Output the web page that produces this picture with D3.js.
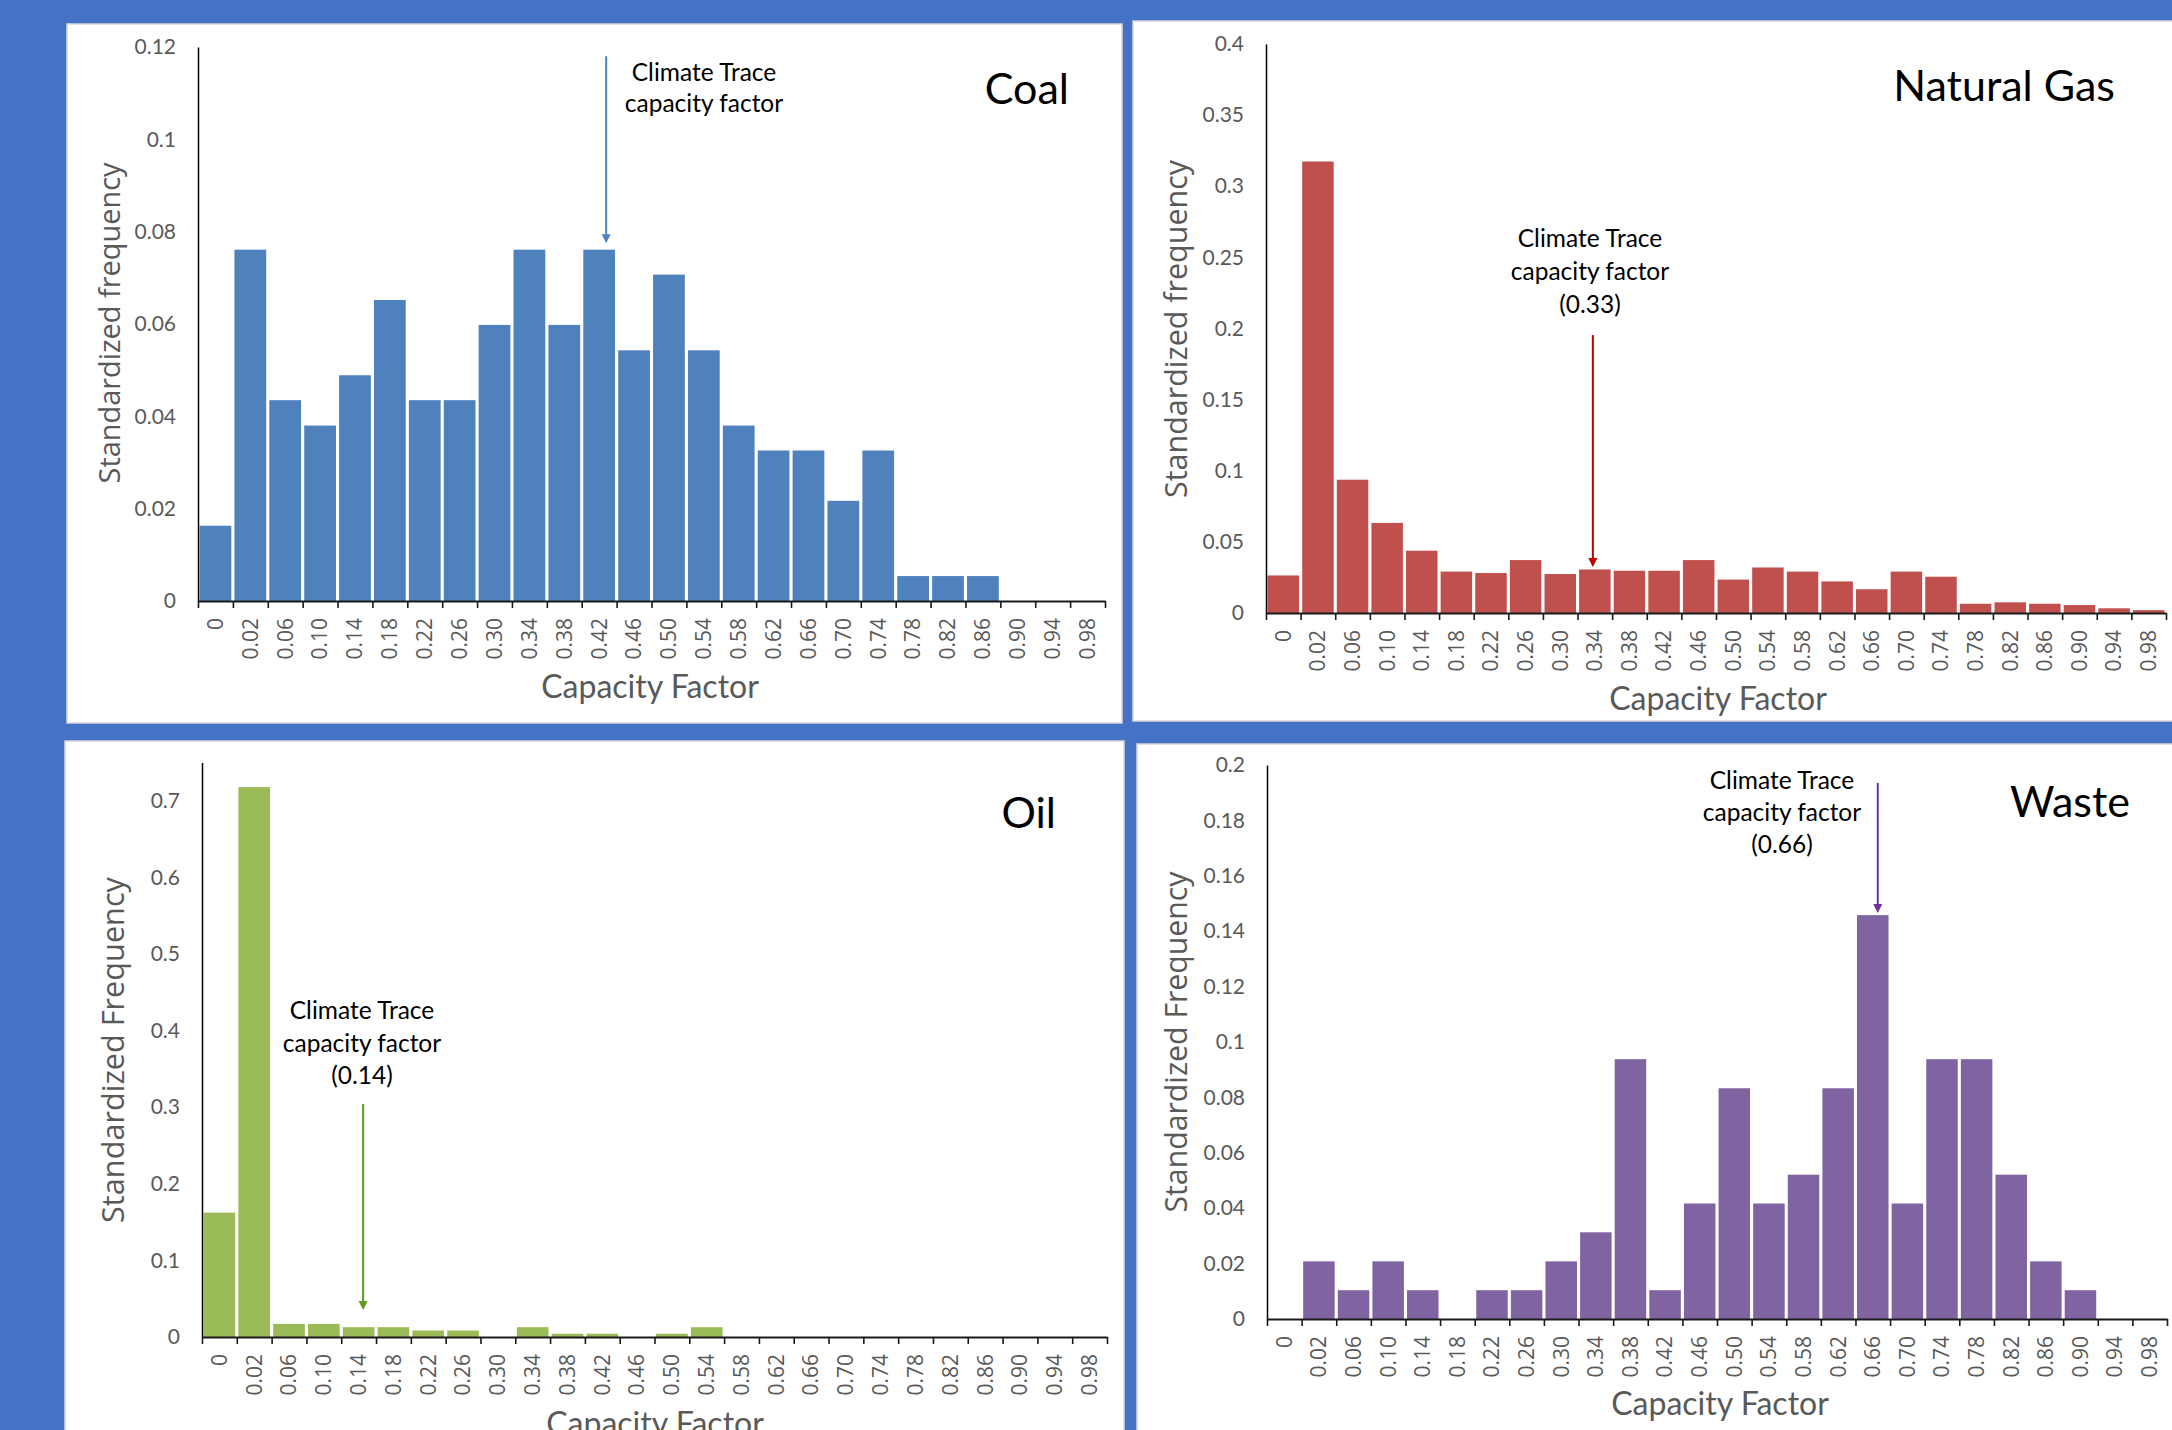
<!DOCTYPE html>
<html>
<head>
<meta charset="utf-8">
<script src="https://cdn.jsdelivr.net/npm/d3@7"></script>
<style>
  html, body { margin: 0; padding: 0; background: #4472C4; overflow: hidden; }
  svg { display: block; }
</style>
</head>
<body>
<svg id="fig" width="2172" height="1430"></svg>
<script>
// Capacity-factor bins (x categories shared by all four histograms)
const bins = ["0","0.02","0.06","0.10","0.14","0.18","0.22","0.26","0.30","0.34","0.38","0.42","0.46",
              "0.50","0.54","0.58","0.62","0.66","0.70","0.74","0.78","0.82","0.86","0.90","0.94","0.98"];

// Standardized frequency per bin
const coalFreq  = [0.0163,0.0761,0.0435,0.0380,0.0489,0.0652,0.0435,0.0435,0.0598,0.0761,0.0598,0.0761,0.0543,
                   0.0707,0.0543,0.0380,0.0326,0.0326,0.0217,0.0326,0.0054,0.0054,0.0054,0,0,0];
const gasFreq   = [0.0264,0.3174,0.0937,0.0633,0.0438,0.0291,0.0281,0.0372,0.0274,0.0306,0.0297,0.0297,0.0372,
                   0.0235,0.0320,0.0291,0.0222,0.0167,0.0291,0.0255,0.0065,0.0075,0.0065,0.0056,0.0033,0.0020];
const oilFreq   = [0.1624,0.7179,0.0171,0.0171,0.0128,0.0128,0.0085,0.0085,0,0.0128,0.0043,0.0043,0,
                   0.0043,0.0128,0,0,0,0,0,0,0,0,0,0,0];
const wasteFreq = [0,0.0208,0.0104,0.0208,0.0104,0,0.0104,0.0104,0.0208,0.0313,0.0938,0.0104,0.0417,
                   0.0833,0.0417,0.0521,0.0833,0.1458,0.0417,0.0938,0.0938,0.0521,0.0208,0.0104,0,0];

// Y tick values
const coalTicks  = [0,0.02,0.04,0.06,0.08,0.1,0.12];
const gasTicks   = [0,0.05,0.1,0.15,0.2,0.25,0.3,0.35,0.4];
const oilTicks   = [0,0.1,0.2,0.3,0.4,0.5,0.6,0.7];
const wasteTicks = [0,0.02,0.04,0.06,0.08,0.1,0.12,0.14,0.16,0.18,0.2];

// Climate Trace capacity-factor markers: bin pointed at, arrow span (in frequency units), caption
const coalMarker  = { bin: "0.42", from: 0.1180, to: 0.0775, lines: ["Climate Trace", "capacity factor"] };
const gasMarker   = { bin: "0.34", from: 0.1954, to: 0.0323, lines: ["Climate Trace", "capacity factor", "(0.33)"] };
const oilMarker   = { bin: "0.14", from: 0.3042, to: 0.0352, lines: ["Climate Trace", "capacity factor", "(0.14)"] };
const wasteMarker = { bin: "0.66", from: 0.1935, to: 0.1466, lines: ["Climate Trace", "capacity factor", "(0.66)"] };

const panels = [
  { title: "Coal", values: coalFreq, ticks: coalTicks, yMax: 0.12, marker: coalMarker,
    yTitle: "Standardized frequency", color: "#4F81BD", arrow: "#4A82C3",
    box: [67, 24, 1055, 699], xr: [198, 1105], yr: [601, 47],
    titleX: 1069, titleY: 104, yTitleX: 111, yTitleY: 323, yTitleLen: 321,
    xTitleX: 650, xTitleY: 698, capX: 704, capY: 81, capStep: 31, arrowDx: 7 },
  { title: "Natural Gas", values: gasFreq, ticks: gasTicks, yMax: 0.4, marker: gasMarker,
    yTitle: "Standardized frequency", color: "#C0504D", arrow: "#C00000",
    box: [1133, 21, 1060, 700], xr: [1266, 2166], yr: [613, 44],
    titleX: 2115, titleY: 101, yTitleX: 1178, yTitleY: 329, yTitleLen: 338,
    xTitleX: 1718, xTitleY: 710, capX: 1590, capY: 247, capStep: 33, arrowDx: -2 },
  { title: "Oil", values: oilFreq, ticks: oilTicks, yMax: 0.75, marker: oilMarker,
    yTitle: "Standardized Frequency", color: "#9BBB59", arrow: "#5B9A1A",
    box: [65, 741, 1059, 720], xr: [202, 1107], yr: [1337, 762.5],
    titleX: 1056, titleY: 828, yTitleX: 115, yTitleY: 1050, yTitleLen: 346,
    xTitleX: 655, xTitleY: 1435, capX: 362, capY: 1019, capStep: 32.5, arrowDx: 4.5 },
  { title: "Waste", values: wasteFreq, ticks: wasteTicks, yMax: 0.2, marker: wasteMarker,
    yTitle: "Standardized Frequency", color: "#8064A2", arrow: "#7030A0",
    box: [1137, 744, 1060, 720], xr: [1267, 2167], yr: [1319, 765],
    titleX: 2130, titleY: 817, yTitleX: 1178, yTitleY: 1042, yTitleLen: 341,
    xTitleX: 1720, xTitleY: 1415, capX: 1782, capY: 789, capStep: 32, arrowDx: 5 }
];

const svg = d3.select("#fig");
svg.append("rect").attr("width", 2172).attr("height", 1430).attr("fill", "#4472C4");

const gray = "#595959";
const fmt = d3.format("~g");

panels.forEach((p, pi) => {
  const g = svg.append("g").attr("class", "panel");

  const clipId = "clip" + pi;
  g.append("clipPath").attr("id", clipId).append("rect")
    .attr("x", p.box[0]).attr("y", p.box[1]).attr("width", p.box[2]).attr("height", p.box[3]);

  g.append("rect")
    .attr("x", p.box[0]).attr("y", p.box[1]).attr("width", p.box[2]).attr("height", p.box[3])
    .attr("fill", "#fff").attr("stroke", "#D9D9D9").attr("stroke-width", 1.5);

  const body = g.append("g").attr("clip-path", `url(#${clipId})`);

  const x = d3.scaleBand().domain(bins).range(p.xr).paddingInner(0.09).paddingOuter(0.045);
  const edges = d3.scaleLinear().domain([0, bins.length]).range(p.xr);
  const y = d3.scaleLinear().domain([0, p.yMax]).range(p.yr);

  // bars
  body.append("g").selectAll("rect")
    .data(p.values.map((v, i) => ({ bin: bins[i], v })))
    .join("rect")
      .attr("x", d => x(d.bin))
      .attr("width", x.bandwidth())
      .attr("y", d => y(d.v))
      .attr("height", d => y(0) - y(d.v))
      .attr("fill", p.color);

  // y axis: line plus labels
  const yAxis = body.append("g").attr("transform", `translate(${p.xr[0]},0)`)
    .call(d3.axisLeft(y).tickValues(p.ticks).tickFormat(fmt).tickSize(0).tickSizeOuter(0).tickPadding(22));
  yAxis.select(".domain").attr("stroke", "#000").attr("stroke-width", 1.5);
  yAxis.selectAll("text").attr("fill", gray).attr("font-family", "Lato, 'Liberation Sans', sans-serif")
    .attr("font-size", 21);

  // x axis: line with tick marks at bin edges
  const xEdge = body.append("g").attr("transform", `translate(0,${p.yr[0]})`)
    .call(d3.axisBottom(edges).tickValues(d3.range(bins.length + 1)).tickFormat("").tickSize(7).tickSizeOuter(0));
  xEdge.select(".domain").attr("stroke", "#1a1a1a").attr("stroke-width", 2);
  xEdge.selectAll(".tick line").attr("stroke", "#1a1a1a").attr("stroke-width", 1.6);

  // x axis: rotated bin labels
  const xLab = body.append("g").attr("transform", `translate(0,${p.yr[0]})`)
    .call(d3.axisBottom(x).tickSize(0).tickSizeOuter(0));
  xLab.select(".domain").remove();
  xLab.selectAll("text")
    .attr("transform", "rotate(-90)")
    .attr("text-anchor", "end")
    .attr("x", -17).attr("y", 0).attr("dy", "0.35em")
    .attr("fill", gray)
    .attr("font-family", "'Open Sans', 'DejaVu Sans', sans-serif")
    .attr("font-size", 21);

  // axis titles
  body.append("text")
    .attr("x", p.xTitleX).attr("y", p.xTitleY)
    .attr("text-anchor", "middle")
    .attr("font-family", "Lato, 'Liberation Sans', sans-serif")
    .attr("font-size", 32).attr("fill", gray)
    .text("Capacity Factor");

  const yt = body.append("text")
    .attr("transform", `translate(${p.yTitleX},${p.yTitleY}) rotate(-90)`)
    .attr("text-anchor", "middle").attr("dy", "0.3em")
    .attr("font-family", "'Open Sans', 'DejaVu Sans', sans-serif")
    .attr("font-size", 29).attr("fill", gray)
    .text(p.yTitle);
  const w = yt.node().getComputedTextLength();
  if (w > 0) yt.attr("font-size", 29 * p.yTitleLen / w);

  // panel title
  body.append("text")
    .attr("x", p.titleX).attr("y", p.titleY)
    .attr("text-anchor", "end")
    .attr("font-family", "Lato, 'Liberation Sans', sans-serif")
    .attr("font-size", 43).attr("fill", "#000")
    .text(p.title);

  // Climate Trace marker: arrow and caption
  const m = p.marker;
  const ax = x(m.bin) + x.bandwidth() / 2 + p.arrowDx;
  const y1 = y(m.from), y2 = y(m.to);
  body.append("line")
    .attr("x1", ax).attr("x2", ax).attr("y1", y1).attr("y2", y2 - 8)
    .attr("stroke", p.arrow).attr("stroke-width", 2);
  body.append("path")
    .attr("d", `M${ax - 4.5},${y2 - 9}L${ax + 4.5},${y2 - 9}L${ax},${y2}Z`)
    .attr("fill", p.arrow);

  body.append("g").selectAll("text")
    .data(m.lines)
    .join("text")
      .attr("x", p.capX)
      .attr("y", (d, i) => p.capY + i * p.capStep)
      .attr("text-anchor", "middle")
      .attr("font-family", "Lato, 'Liberation Sans', sans-serif")
      .attr("font-size", 24.5).attr("fill", "#000")
      .text(d => d);
});
</script>
</body>
</html>
